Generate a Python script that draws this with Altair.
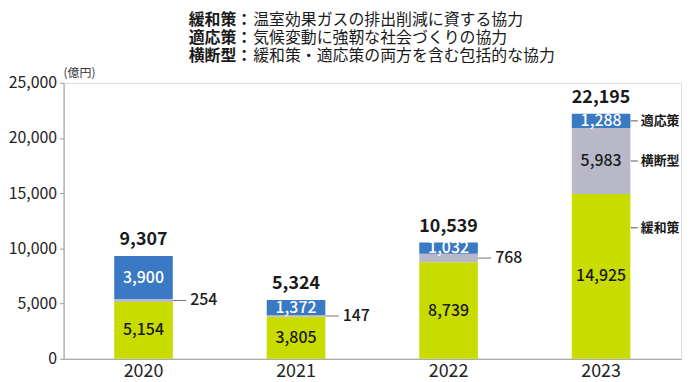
import altair as alt
import pandas as pd

# ---- data ----
years = ["2020", "2021", "2022", "2023"]
mitigation = [5154, 3805, 8739, 14925]   # 緩和策
cross = [254, 147, 768, 5983]            # 横断型
adaptation = [3900, 1372, 1032, 1288]    # 適応策
totals = [9307, 5324, 10539, 22195]
categories = ["緩和策", "横断型", "適応策"]
colors = ["#c8dc00", "#b8b8c8", "#3a79c3"]
y_ticks = [0, 5000, 10000, 15000, 20000, 25000]
unit_label = "(億円)"
legend_heads = ["緩和策：", "適応策：", "横断型："]
legend_desc = ["温室効果ガスの排出削減に資する協力",
               "気候変動に強靭な社会づくりの協力",
               "緩和策・適応策の両方を含む包括的な協力"]
# data-value anchors of the category call-outs on the 2023 bar
callout_cats = ["適応策", "横断型", "緩和策"]
callout_values = [21551, 17916, 11870]

FONT = "Noto Sans CJK JP"

# ---- build tables ----
rows = []
for i, y in enumerate(years):
    start = 0
    for cat, vals in zip(categories, [mitigation, cross, adaptation]):
        v = vals[i]
        rows.append(dict(year=y, cat=cat, start=start, end=start + v,
                         mid=start + v / 2, label=f"{v:,}"))
        start += v
seg = pd.DataFrame(rows)

inside_dark = seg[(seg.cat == "緩和策") | ((seg.cat == "横断型") & (seg.year == "2023"))]
inside_white = seg[seg.cat == "適応策"]
outside = seg[(seg.cat == "横断型") & (seg.year != "2023")]
tot = pd.DataFrame(dict(year=years, total=totals, label=[f"{t:,}" for t in totals]))
callouts = pd.DataFrame(dict(year=["2023"] * 3, cat=callout_cats, v=callout_values))

xscale = alt.Scale(domain=years, paddingInner=0.616, paddingOuter=0.332)
yscale = alt.Scale(domain=[0, 25000])

bars = alt.Chart(seg).mark_bar().encode(
    x=alt.X("year:N", scale=xscale, sort=years,
            axis=alt.Axis(title=None, labelAngle=0, ticks=False, labelPadding=4,
                          labelFontSize=18, labelColor="#222", domainColor="#9a9a9a",
                          labelFont=FONT)),
    y=alt.Y("start:Q", scale=yscale,
            axis=alt.Axis(title=None, values=y_ticks, format=",.0f", grid=False,
                          tickSize=4, labelPadding=3, labelFontSize=16,
                          labelColor="#222", domainColor="#9a9a9a",
                          tickColor="#9a9a9a", labelFont=FONT)),
    y2="end:Q",
    color=alt.Color("cat:N", scale=alt.Scale(domain=categories, range=colors), legend=None),
)

txt_dark = alt.Chart(inside_dark).mark_text(
    font=FONT, fontSize=16, fontWeight=500, color="#1a1a1a", baseline="middle"
).encode(x=alt.X("year:N", scale=xscale, sort=years),
         y=alt.Y("mid:Q", scale=yscale), text="label:N")

txt_white = alt.Chart(inside_white).mark_text(
    font=FONT, fontSize=16, fontWeight=500, color="white", baseline="middle"
).encode(x=alt.X("year:N", scale=xscale, sort=years),
         y=alt.Y("mid:Q", scale=yscale), text="label:N")

lead = alt.Chart(outside).mark_rule(
    xOffset=29.5, x2Offset=43, color="#777", strokeWidth=1
).encode(x=alt.X("year:N", scale=xscale, sort=years), x2=alt.X2("year"),
         y=alt.Y("mid:Q", scale=yscale))

txt_out = alt.Chart(outside).mark_text(
    font=FONT, fontSize=16, fontWeight=500, color="#1a1a1a", align="left",
    baseline="middle", dx=47
).encode(x=alt.X("year:N", scale=xscale, sort=years),
         y=alt.Y("mid:Q", scale=yscale), text="label:N")

tot_txt = alt.Chart(tot).mark_text(
    font=FONT, fontSize=18, fontWeight="bold", color="#1a1a1a", baseline="bottom", dy=-7
).encode(x=alt.X("year:N", scale=xscale, sort=years),
         y=alt.Y("total:Q", scale=yscale), text="label:N")

co_rule = alt.Chart(callouts).mark_rule(
    xOffset=30, x2Offset=37, color="#555", strokeWidth=1
).encode(x=alt.X("year:N", scale=xscale, sort=years), x2=alt.X2("year"),
         y=alt.Y("v:Q", scale=yscale))

co_txt = alt.Chart(callouts).mark_text(
    font=FONT, fontSize=13, fontWeight="bold", color="#1a1a1a", align="left",
    baseline="middle", dx=40
).encode(x=alt.X("year:N", scale=xscale, sort=years),
         y=alt.Y("v:Q", scale=yscale), text="cat:N")

layers = [bars, txt_dark, txt_white, lead, txt_out, tot_txt, co_rule, co_txt]

# title block (legend text); plot area starts at page x = 64
for i, (h, d) in enumerate(zip(legend_heads, legend_desc)):
    yy = -63 + i * 18
    layers.append(alt.Chart(pd.DataFrame({"t": [h]})).mark_text(
        font=FONT, fontSize=16, fontWeight="bold", color="#1a1a1a",
        align="left", baseline="middle"
    ).encode(text="t:N", x=alt.value(126), y=alt.value(yy)))
    layers.append(alt.Chart(pd.DataFrame({"t": [d]})).mark_text(
        font=FONT, fontSize=16, color="#1a1a1a", align="left", baseline="middle"
    ).encode(text="t:N", x=alt.value(191), y=alt.value(yy)))

layers.append(alt.Chart(pd.DataFrame({"t": [unit_label]})).mark_text(
    font=FONT, fontSize=12, color="#333", align="left", baseline="middle"
).encode(text="t:N", x=alt.value(0), y=alt.value(-10)))

chart = alt.layer(*layers).properties(
    width=622, height=278,
    autosize=alt.AutoSizeParams(type="none"),
    padding={"left": 56, "top": 74, "right": 1, "bottom": 22},
).configure_view(stroke=None).configure(background="white")

chart.save("out.html", embed_options={"renderer": "svg", "actions": False})
